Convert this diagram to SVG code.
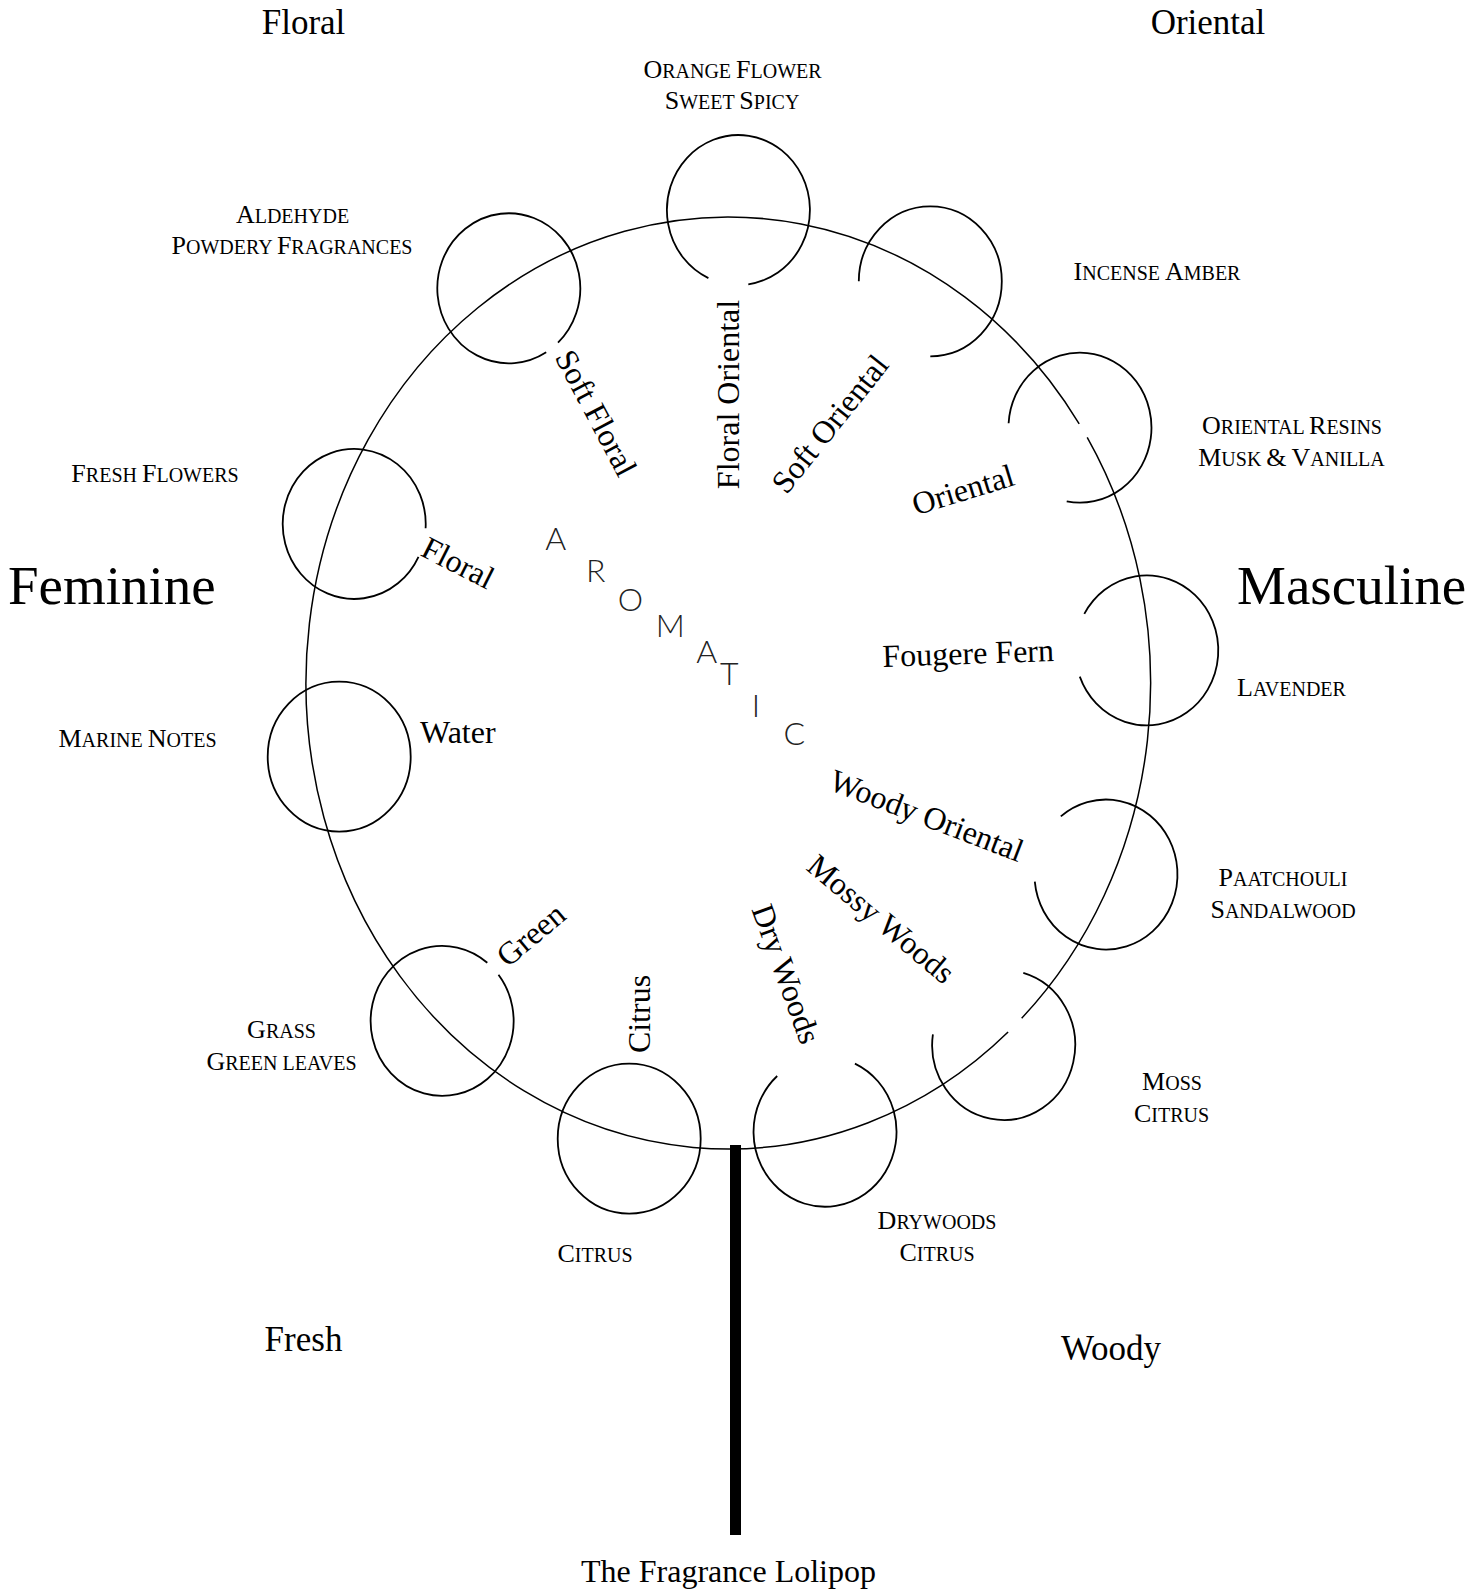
<svg xmlns="http://www.w3.org/2000/svg" width="1471" height="1591" viewBox="0 0 1471 1591">
<style>
  text { font-family: "Liberation Serif", "Times New Roman", serif; fill: #000; }
  .ring { fill: none; stroke: #000; stroke-width: 1.8; }
  .wheel { fill: none; stroke: #000; stroke-width: 1.5; }
  .sc { font-size: 20px; text-anchor: middle; }
  .sc .b { font-size: 26px; }
  .corner { font-size: 35px; text-anchor: middle; }
  .gender { font-size: 55px; }
  .inner { font-size: 32px; text-anchor: middle; }
  .aro { font-family: "Lato", "DejaVu Sans", sans-serif; font-weight: 300; font-size: 32px; fill: #222; text-anchor: middle; }
</style>
<rect width="1471" height="1591" fill="#fff"/>

<g id="wheel">
  <path class="wheel" d="M1087.2,437.4 A422.3,466 0 0 1 1021.7,1018.2 M1008.1,1032.0 A422.3,466 0 1 1 1079.2,423.8"/>
</g>
<g id="stem">
  <rect x="730" y="1145" width="11" height="390" fill="#000"/>
</g>

<g id="corner-labels">
  <text class="corner" x="303.5" y="34">Floral</text>
  <text class="corner" x="1208" y="34">Oriental</text>
  <text class="corner" x="303.5" y="1351">Fresh</text>
  <text class="corner" x="1111" y="1360">Woody</text>
  <text class="gender" x="8" y="604">Feminine</text>
  <text class="gender" x="1237" y="604">Masculine</text>
  <text style="font-size:32px;text-anchor:middle" x="728.5" y="1582">The Fragrance Lolipop</text>
</g>

<g id="node-orange-flower">
  <path class="ring" d="M708.4,278.1 A71.5,75 0 1 1 748.3,284.3"/>
  <text class="sc" x="732.5" y="78"><tspan class="b">O</tspan>RANGE <tspan class="b">F</tspan>LOWER</text>
  <text class="sc" x="732" y="109"><tspan class="b">S</tspan>WEET <tspan class="b">S</tspan>PICY</text>
  <text class="inner" transform="translate(728.3,394.5) rotate(-90)" dy="0.33em">Floral Oriental</text>
</g>

<g id="node-aldehyde">
  <path class="ring" d="M546.2,352.2 A71.5,75 0 1 1 558.0,342.7"/>
  <text class="sc" x="292.5" y="223"><tspan class="b">A</tspan>LDEHYDE</text>
  <text class="sc" x="292" y="254"><tspan class="b">P</tspan>OWDERY <tspan class="b">F</tspan>RAGRANCES</text>
  <text class="inner" transform="translate(596,413) rotate(62)" dy="0.33em">Soft Floral</text>
</g>

<g id="node-incense">
  <path class="ring" d="M858.8,281.3 A71.5,75 0 1 1 930.3,356.3"/>
  <text class="sc" x="1157" y="280"><tspan class="b">I</tspan>NCENSE <tspan class="b">A</tspan>MBER</text>
  <text class="inner" transform="translate(830,424) rotate(-51.4)" dy="0.33em">Soft Oriental</text>
</g>

<g id="node-oriental-resins">
  <path class="ring" d="M1008.6,423.3 A71.5,75 0 1 1 1066.7,501.4"/>
  <text class="sc" x="1292" y="434"><tspan class="b">O</tspan>RIENTAL <tspan class="b">R</tspan>ESINS</text>
  <text class="sc" x="1291.5" y="466"><tspan class="b">M</tspan>USK <tspan class="b">&amp;</tspan> <tspan class="b">V</tspan>ANILLA</text>
  <text class="inner" transform="translate(963,490) rotate(-17)" dy="0.33em">Oriental</text>
</g>

<g id="node-lavender">
  <path class="ring" d="M1084.3,613.9 A71.5,75 0 1 1 1079.8,676.6"/>
  <text class="sc" x="1291.5" y="696"><tspan class="b">L</tspan>AVENDER</text>
  <text class="inner" transform="translate(968.5,664) rotate(-2)">Fougere Fern</text>
</g>

<g id="node-paatchouli">
  <path class="ring" d="M1060.8,816.4 A71.5,75 0 1 1 1034.8,881.7"/>
  <text class="sc" x="1283" y="886"><tspan class="b">P</tspan>AATCHOULI</text>
  <text class="sc" x="1283" y="918"><tspan class="b">S</tspan>ANDALWOOD</text>
  <text class="inner" transform="translate(926.7,815.8) rotate(21)" dy="0.33em">Woody Oriental</text>
</g>

<g id="node-moss">
  <path class="ring" d="M1023.3,972.9 A71.5,75 0 1 1 932.9,1034.3"/>
  <text class="sc" x="1172" y="1090"><tspan class="b">M</tspan>OSS</text>
  <text class="sc" x="1171.5" y="1122"><tspan class="b">C</tspan>ITRUS</text>
  <text class="inner" transform="translate(881,919) rotate(40)" dy="0.33em">Mossy Woods</text>
</g>

<g id="node-drywoods">
  <path class="ring" d="M854.9,1063.6 A71.5,75 0 1 1 777.2,1076.0"/>
  <text class="sc" x="937" y="1229"><tspan class="b">D</tspan>RYWOODS</text>
  <text class="sc" x="937" y="1261"><tspan class="b">C</tspan>ITRUS</text>
  <text class="inner" transform="translate(786,974) rotate(70)" dy="0.33em">Dry Woods</text>
</g>

<g id="node-citrus">
  <ellipse class="ring" cx="629.2" cy="1138.7" rx="71.5" ry="75"/>
  <text class="sc" x="595" y="1262"><tspan class="b">C</tspan>ITRUS</text>
  <text class="inner" transform="translate(639,1014) rotate(-90)" dy="0.33em">Citrus</text>
</g>

<g id="node-grass">
  <path class="ring" d="M498.5,974.8 A71.5,75 0 1 1 487.3,962.8"/>
  <text class="sc" x="281.5" y="1038"><tspan class="b">G</tspan>RASS</text>
  <text class="sc" x="281.5" y="1070"><tspan class="b">G</tspan>REEN LEAVES</text>
  <text class="inner" transform="translate(531,935) rotate(-40)" dy="0.33em">Green</text>
</g>

<g id="node-marine">
  <ellipse class="ring" cx="339.2" cy="756.7" rx="71.5" ry="75"/>
  <text class="sc" x="137.5" y="747"><tspan class="b">M</tspan>ARINE <tspan class="b">N</tspan>OTES</text>
  <text class="inner" x="420" y="743" style="text-anchor:start">Water</text>
</g>

<g id="node-fresh-flowers">
  <path class="ring" d="M418.5,556.8 A71.5,75 0 1 1 425.6,528.3"/>
  <text class="sc" x="155" y="482"><tspan class="b">F</tspan>RESH <tspan class="b">F</tspan>LOWERS</text>
  <text class="inner" transform="translate(458,563) rotate(27)" dy="0.33em">Floral</text>
</g>

<g id="aromatic">
  <text class="aro" x="555.8" y="550">A</text>
  <text class="aro" x="595.8" y="581.7">R</text>
  <text class="aro" x="630.3" y="610.5">O</text>
  <text class="aro" x="670.3" y="637.3">M</text>
  <text class="aro" x="706.7" y="663.3">A</text>
  <text class="aro" x="729.2" y="685">T</text>
  <text class="aro" x="755.8" y="716.7">I</text>
  <text class="aro" x="794.2" y="745">C</text>
</g>

<g id="connectors"></g>
</svg>
